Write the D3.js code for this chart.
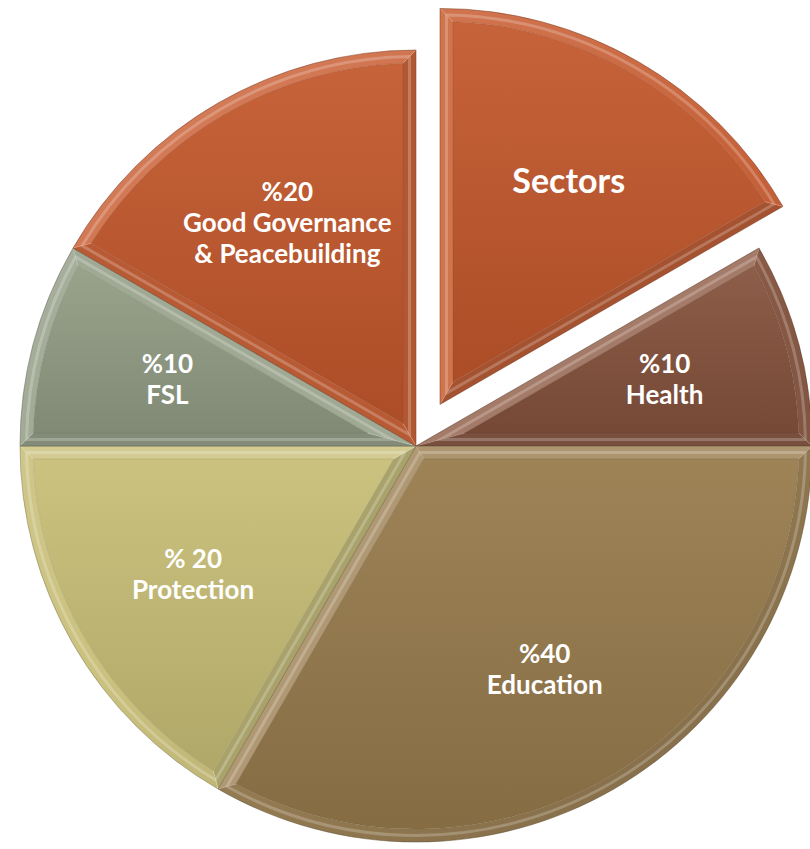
<!DOCTYPE html>
<html>
<head>
<meta charset="utf-8">
<script src="https://cdn.jsdelivr.net/npm/d3@7"></script>
<style>
  html, body { margin: 0; background: #ffffff; }
  svg { display: block; }
</style>
</head>
<body>
<svg id="chart" width="810" height="849"></svg>
<script>
// Programme sectors, clockwise after the title wedge, with their budget shares (%)
const categories = ["Health", "Education", "Protection", "FSL", "Good Governance & Peacebuilding"];
const shares = [10, 40, 20, 10, 20];
const shareLabels = ["%10", "%40", "% 20", "%10", "%20"];
const nameLines = [["Health"], ["Education"], ["Protection"], ["FSL"], ["Good Governance", "& Peacebuilding"]];
const sliceColors = ["#83513b", "#95794a", "#c6bd74", "#919b83", "#c0552a"];
const titleText = "Sectors";
const titleColor = "#c0552a";

// Layout
const cx = 416, cy = 446, R = 396, bevel = 13;
const titleSweep = Math.PI / 3;          // angle reserved for the exploded title wedge
const explode = 48;
const labelRadius = 0.65 * R;
const light = [-0.6, -0.8];              // light comes from the upper left

const svg = d3.select("#chart");
const defs = svg.append("defs");
const root = svg.append("g").attr("transform", `translate(${cx},${cy})`);

// Data wedges share the rest of the circle in proportion to their shares
const pie = d3.pie().sort(null).value(d => d.value)
  .startAngle(titleSweep).endAngle(2 * Math.PI);
const dataArcs = pie(categories.map((c, i) => ({
  name: c, value: shares[i], share: shareLabels[i], lines: nameLines[i], color: sliceColors[i]
})));

const wedges = [
  { startAngle: 0, endAngle: titleSweep, data: { name: titleText, title: true, lines: [titleText], color: titleColor } },
  ...dataArcs
];

const pt = (r, a) => [r * Math.sin(a), -r * Math.cos(a)];
const mix = (a, b, t) => d3.interpolateLab(a, b)(t);
const shade = (base, s) => s >= 0 ? mix(base, "#ffffff", 0.2 * s) : mix(base, "#000000", 0.16 * -s);
const dot = (v) => v[0] * light[0] + v[1] * light[1];

function geometry(a0, a1) {
  const half = (a1 - a0) / 2, mid = a0 + half;
  const Ri = R - bevel;
  const delta = Math.asin(bevel / Ri);
  return {
    mid, half,
    O: [0, 0],
    I: pt(bevel / Math.sin(half), mid),
    P0: pt(R, a0), P1: pt(R, a1),
    Q0: pt(Ri, a0 + delta), Q1: pt(Ri, a1 - delta),
    Ri, delta
  };
}

const C = a => a - Math.PI / 2;   // d3 arc angle -> canvas angle

// highlight line running inside a straight edge, halfway across the bevel
function edgeStripe(a, side, g) {
  const h = bevel * 0.5;
  const n = pt(1, a + side * Math.PI / 2);          // inward normal
  const start = pt(h / Math.sin(g.half), g.mid);
  const rr = R - h;
  const end = pt(rr, a + side * Math.asin(h / rr));
  return `M${start}L${end}`;
}

wedges.forEach((w, i) => {
  const a0 = w.startAngle, a1 = w.endAngle;
  const g = geometry(a0, a1);
  const base = w.data.color;
  const off = w.data.title ? pt(explode, g.mid) : [0, 0];
  const grp = root.append("g").attr("transform", `translate(${off[0]},${off[1]})`);

  const bodyId = "body" + i, rimId = "rim" + i;
  const bodyGrad = defs.append("linearGradient").attr("id", bodyId)
    .attr("x1", 0).attr("y1", 0).attr("x2", 0).attr("y2", 1);
  bodyGrad.append("stop").attr("offset", 0).attr("stop-color", mix(base, "#ffffff", 0.08));
  bodyGrad.append("stop").attr("offset", 1).attr("stop-color", mix(base, "#000000", 0.1));

  const bevelBase = mix(base, "#ffffff", 0.07);
  const rimGrad = defs.append("linearGradient").attr("id", rimId)
    .attr("gradientUnits", "userSpaceOnUse")
    .attr("x1", R * light[0]).attr("y1", R * light[1])
    .attr("x2", -R * light[0]).attr("y2", -R * light[1]);
  rimGrad.append("stop").attr("offset", 0).attr("stop-color", shade(bevelBase, 0.8));
  rimGrad.append("stop").attr("offset", 0.5).attr("stop-color", bevelBase);
  rimGrad.append("stop").attr("offset", 1).attr("stop-color", shade(bevelBase, -0.8));

  // facet along the first straight edge
  const n0 = pt(1, a0 - Math.PI / 2);
  grp.append("path")
    .attr("d", `M${g.O}L${g.P0}L${g.Q0}L${g.I}Z`)
    .attr("fill", shade(bevelBase, dot(n0)));

  // facet along the second straight edge
  const n1 = pt(1, a1 + Math.PI / 2);
  grp.append("path")
    .attr("d", `M${g.O}L${g.I}L${g.Q1}L${g.P1}Z`)
    .attr("fill", shade(bevelBase, dot(n1)));

  // facet along the outer arc
  const arcFacet = d3.path();
  arcFacet.moveTo(...g.P0);
  arcFacet.arc(0, 0, R, C(a0), C(a1));
  arcFacet.lineTo(...g.Q1);
  arcFacet.arc(0, 0, g.Ri, C(a1 - g.delta), C(a0 + g.delta), true);
  arcFacet.closePath();
  grp.append("path").attr("d", arcFacet.toString()).attr("fill", `url(#${rimId})`);

  // soft highlight stripes within the bevel
  const stripe = d3.path();
  const h = bevel * 0.5, rr = R - h;
  stripe.moveTo(...pt(h / Math.sin(g.half), g.mid));
  stripe.lineTo(...pt(rr, a0 + Math.asin(h / rr)));
  stripe.arc(0, 0, rr, C(a0 + Math.asin(h / rr)), C(a1 - Math.asin(h / rr)));
  stripe.closePath();
  grp.append("path").attr("d", stripe.toString())
    .attr("fill", "none")
    .attr("stroke", "#ffffff")
    .attr("stroke-opacity", 0.22)
    .attr("stroke-width", 3)
    .attr("stroke-linejoin", "miter");

  // inner face
  const inner = d3.path();
  inner.moveTo(...g.I);
  inner.lineTo(...g.Q0);
  inner.arc(0, 0, g.Ri, C(a0 + g.delta), C(a1 - g.delta));
  inner.closePath();
  grp.append("path").attr("d", inner.toString())
    .attr("fill", `url(#${bodyId})`)
    .attr("stroke", mix(base, "#000000", 0.2))
    .attr("stroke-opacity", 0.35)
    .attr("stroke-width", 1);

  // bevel creases
  grp.append("path")
    .attr("d", `M${g.O}L${g.I}M${g.P0}L${g.Q0}M${g.P1}L${g.Q1}`)
    .attr("stroke", mix(base, "#ffffff", 0.4))
    .attr("stroke-opacity", 0.5)
    .attr("stroke-width", 1)
    .attr("fill", "none");

  // outline
  const outer = d3.path();
  outer.moveTo(0, 0);
  outer.lineTo(...g.P0);
  outer.arc(0, 0, R, C(a0), C(a1));
  outer.closePath();
  grp.append("path").attr("d", outer.toString())
    .attr("fill", "none")
    .attr("stroke", mix(base, "#000000", 0.35))
    .attr("stroke-opacity", 0.5)
    .attr("stroke-width", 1);

  // label
  const lines = w.data.title ? [w.data.name] : [w.data.share, ...w.data.lines];
  const fs = w.data.title ? 34 : 26;
  const lh = 31;
  const c = pt(labelRadius, g.mid);
  const text = grp.append("text")
    .attr("text-anchor", "middle")
    .attr("font-family", "Lato, 'Open Sans', sans-serif")
    .attr("font-weight", 700)
    .attr("font-size", fs)
    .attr("fill", "#ffffff");
  lines.forEach((ln, k) => {
    text.append("tspan")
      .attr("x", c[0])
      .attr("y", c[1] + (k - (lines.length - 1) / 2) * lh)
      .attr("dy", "0.35em")
      .text(ln);
  });
});
</script>
</body>
</html>
